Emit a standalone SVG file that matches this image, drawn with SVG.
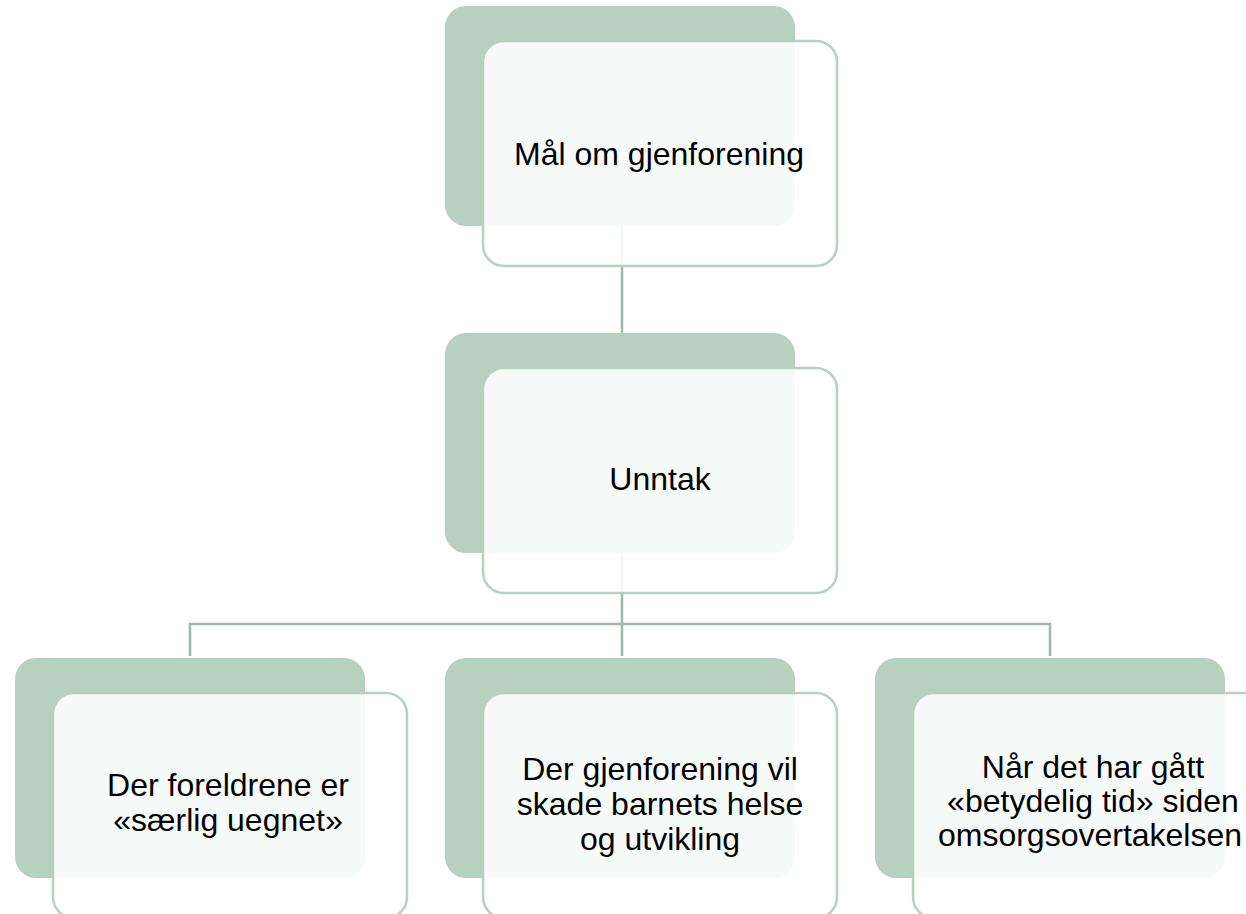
<svg xmlns="http://www.w3.org/2000/svg" width="1246" height="914" viewBox="0 0 1246 914">
<style>
.back{fill:#b7d0c0;}
.front{fill:#ffffff;fill-opacity:0.88;stroke:#b7d0c0;stroke-width:2.5;}
.conn{fill:none;stroke:#9fb8a8;stroke-width:2.5;}
.lbl{font-family:"Liberation Sans",Arial,sans-serif;font-size:32px;fill:#000000;text-anchor:middle;}
</style>
<rect width="1246" height="914" fill="#ffffff"/>
<g id="connectors">
<path class="conn" d="M622,226 V333"/>
<path class="conn" d="M622,553 V656"/>
<path class="conn" d="M190,656 V624 H1050 V656"/>
</g>
<g id="node-maal">
<rect class="back" x="445" y="6" width="350" height="220" rx="21"/>
<rect class="front" x="483" y="41" width="354" height="225" rx="21"/>
<text class="lbl" x="659" y="165">Mål om gjenforening</text>
</g>
<g id="node-unntak">
<rect class="back" x="445" y="333" width="350" height="220" rx="21"/>
<rect class="front" x="483" y="368" width="354" height="225" rx="21"/>
<text class="lbl" x="660" y="490">Unntak</text>
</g>
<g id="node-uegnet">
<rect class="back" x="15" y="658" width="350" height="220" rx="21"/>
<rect class="front" x="53" y="693" width="354" height="225" rx="21"/>
<text class="lbl" x="228" y="796">Der foreldrene er</text>
<text class="lbl" x="228" y="831">«særlig uegnet»</text>
</g>
<g id="node-helse">
<rect class="back" x="445" y="658" width="350" height="220" rx="21"/>
<rect class="front" x="483" y="693" width="354" height="225" rx="21"/>
<text class="lbl" x="660" y="780">Der gjenforening vil</text>
<text class="lbl" x="660" y="815">skade barnets helse</text>
<text class="lbl" x="660" y="850">og utvikling</text>
</g>
<g id="node-tid">
<rect class="back" x="875" y="658" width="350" height="220" rx="21"/>
<rect class="front" x="913" y="693" width="354" height="225" rx="21"/>
<text class="lbl" x="1093" y="778">Når det har gått</text>
<text class="lbl" x="1093" y="812">«betydelig tid» siden</text>
<text class="lbl" x="1090" y="846">omsorgsovertakelsen</text>
</g>
</svg>
